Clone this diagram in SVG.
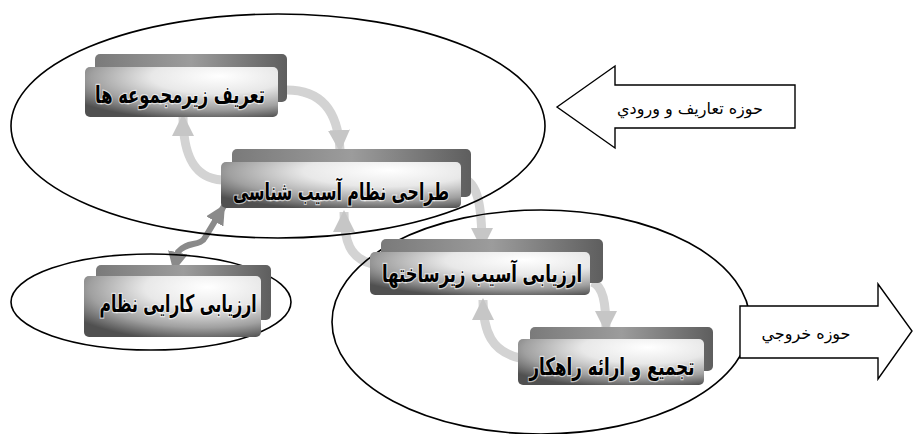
<svg xmlns="http://www.w3.org/2000/svg" width="913" height="434" viewBox="0 0 913 434">
<defs>
<radialGradient id="gf" cx="0.66" cy="0.22" r="0.85" fx="0.7" fy="0.18">
<stop offset="0" stop-color="#ffffff"/>
<stop offset="0.4" stop-color="#e8e8e8"/>
<stop offset="0.75" stop-color="#a0a0a0"/>
<stop offset="1" stop-color="#505050"/>
</radialGradient>
<linearGradient id="gb" x1="0" y1="0" x2="1" y2="0">
<stop offset="0" stop-color="#7a7a7a"/>
<stop offset="0.5" stop-color="#9c9c9c"/>
<stop offset="1" stop-color="#5e5e5e"/>
</linearGradient>
<marker id="lh" markerUnits="userSpaceOnUse" markerWidth="22" markerHeight="22" viewBox="0 0 22 22" refX="20" refY="11" orient="auto">
<path d="M0,0 L22,11 L0,22 z" fill="#c6c6c6"/>
</marker>
<marker id="dh" markerUnits="userSpaceOnUse" markerWidth="20" markerHeight="20" viewBox="0 0 20 20" refX="18" refY="10" orient="auto-start-reverse">
<path d="M0,0 L20,10 L0,20 z" fill="#8a8a8a"/>
</marker>
</defs>
<style>
.ell{fill:none;stroke:#000;stroke-width:1.6}
.blk{fill:#fff;stroke:#000;stroke-width:1.4}
.back{fill:url(#gb)}
.front{fill:url(#gf)}
.nt{font-family:"DejaVu Sans",sans-serif;font-weight:bold;font-size:24px;fill:#000;text-anchor:middle;direction:rtl;stroke:#fff;stroke-width:2.5;stroke-opacity:0.6;paint-order:stroke}
.lt{font-family:"DejaVu Sans",serif;font-size:16px;fill:#000;text-anchor:middle;direction:rtl}
.lc{fill:none;stroke:#d3d3d3;stroke-width:9;marker-end:url(#lh)}
.dc{fill:none;stroke:#8a8a8a;stroke-width:6;marker-start:url(#dh);marker-end:url(#dh)}
</style>
<rect width="913" height="434" fill="#fff"/>
<g id="connectors">
<path class="lc" d="M282,90 C322,88 338,112 340,150"/>
<path class="lc" d="M222,180 C192,178 183,152 183,116"/>
<path class="lc" d="M462,178 C478,182 482,206 482,248"/>
<path class="lc" d="M372,264 C350,258 344,242 344,212"/>
<path class="lc" d="M592,282 C603,286 606,302 606,331"/>
<path class="lc" d="M520,358 C492,352 483,332 483,300"/>
<path class="dc" d="M174,270 L178,252 C188,240 200,248 206,236 L224,206"/>
</g>
<g id="zones">
<ellipse class="ell" cx="278" cy="126" rx="267" ry="112"/>
<ellipse class="ell" cx="151" cy="302" rx="140" ry="48"/>
<ellipse class="ell" cx="541" cy="322" rx="209" ry="112"/>
</g>
<g id="node-tarif">
<rect class="back" x="95" y="54" width="192" height="48" rx="5"/>
<rect class="front" x="85" y="67" width="193" height="50" rx="5"/>
<text class="nt" x="180" y="103" textLength="170" lengthAdjust="spacingAndGlyphs">تعریف زیرمجموعه ها</text>
</g>
<g id="node-tarahi">
<rect class="back" x="232" y="149" width="239" height="48" rx="5"/>
<rect class="front" x="221" y="162" width="240" height="46" rx="5"/>
<text class="nt" x="341" y="200" textLength="216" lengthAdjust="spacingAndGlyphs">طراحی نظام آسیب شناسی</text>
</g>
<g id="node-arzyabi-asib">
<rect class="back" x="381" y="239" width="222" height="44" rx="5"/>
<rect class="front" x="370" y="252" width="220" height="43" rx="5"/>
<text class="nt" x="482" y="282" textLength="200" lengthAdjust="spacingAndGlyphs">ارزیابی آسیب زیرساختها</text>
</g>
<g id="node-tajmi">
<rect class="back" x="530" y="327" width="183" height="44" rx="5"/>
<rect class="front" x="518" y="339" width="186" height="46" rx="5"/>
<text class="nt" x="612" y="375" textLength="165" lengthAdjust="spacingAndGlyphs">تجمیع و ارائه راهکار</text>
</g>
<g id="node-karayi">
<rect class="back" x="96" y="265" width="175" height="55" rx="5"/>
<rect class="front" x="84" y="276" width="177" height="61" rx="5"/>
<text class="nt" x="178" y="312" textLength="157" lengthAdjust="spacingAndGlyphs">ارزیابی کارایی نظام</text>
</g>
<g id="input-zone">
<polygon class="blk" points="557,107 615,66 615,85 795,85 795,128 615,128 615,148"/>
<text class="lt" x="690" y="114">حوزه تعاريف و ورودي</text>
</g>
<g id="output-zone">
<polygon class="blk" points="740,306 878,306 878,284 912,331 878,379 878,358 740,358"/>
<text class="lt" x="806" y="339">حوزه خروجي</text>
</g>
</svg>
